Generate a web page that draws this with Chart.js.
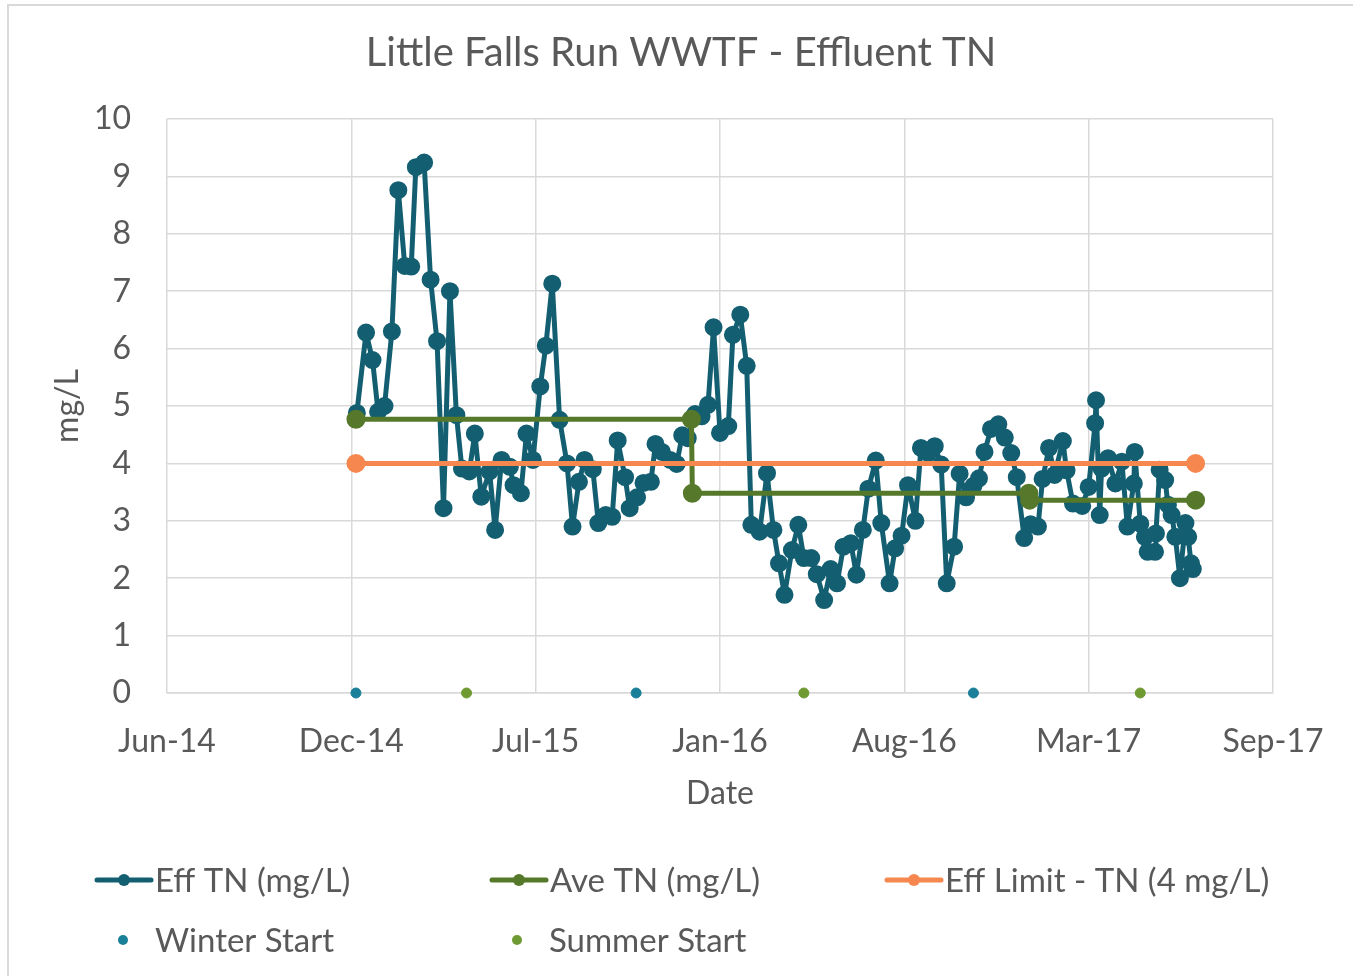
<!DOCTYPE html>
<html>
<head>
<meta charset="utf-8">
<title>Little Falls Run WWTF - Effluent TN</title>
<script src="https://cdn.jsdelivr.net/npm/chart.js@4.4.1/dist/chart.umd.min.js"></script>
<style>
  html, body { margin: 0; padding: 0; background: #fff; }
  #wrap { position: relative; width: 1353px; height: 976px; overflow: hidden; }
  #frame { position: absolute; left: 7px; top: 4px; width: 1400px; height: 1000px;
           border: 2px solid #d9d9d9; box-sizing: border-box; }
  canvas { position: absolute; left: 0; top: 0; }
</style>
</head>
<body>
<div id="wrap">
  <div id="frame"></div>
  <canvas id="chart" width="1353" height="976"></canvas>
</div>
<script>
// ---- data ----
const effDates = [
  '2015-01-02','2015-01-12','2015-01-19','2015-01-25','2015-02-01','2015-02-09','2015-02-16','2015-02-23',
  '2015-03-02','2015-03-07','2015-03-16','2015-03-23','2015-03-30','2015-04-06','2015-04-13','2015-04-20',
  '2015-04-26','2015-05-04','2015-05-10','2015-05-17','2015-05-26','2015-06-01','2015-06-08','2015-06-17',
  '2015-06-21','2015-06-29','2015-07-05','2015-07-12','2015-07-20','2015-07-26','2015-08-02','2015-08-10',
  '2015-08-18','2015-08-24','2015-08-31','2015-09-06','2015-09-15','2015-09-21','2015-09-29','2015-10-06',
  '2015-10-12','2015-10-20','2015-10-25','2015-11-02','2015-11-09','2015-11-17','2015-11-22','2015-11-29',
  '2015-12-08','2015-12-15','2015-12-21','2015-12-27','2016-01-04','2016-01-11','2016-01-18','2016-01-24',
  '2016-01-31','2016-02-09','2016-02-14','2016-02-22','2016-02-29','2016-03-05','2016-03-14','2016-03-22',
  '2016-03-29','2016-04-04','2016-04-10','2016-04-18','2016-04-25','2016-05-01','2016-05-09','2016-05-15',
  '2016-05-23','2016-05-30','2016-06-06','2016-06-13','2016-06-21','2016-06-27','2016-07-04','2016-07-10',
  '2016-07-18','2016-07-24','2016-08-02','2016-08-08','2016-08-15','2016-08-22','2016-08-30','2016-09-05',
  '2016-09-13','2016-09-20','2016-09-27','2016-10-03','2016-10-11','2016-10-17','2016-10-24','2016-11-01',
  '2016-11-07','2016-11-13','2016-11-20','2016-11-28','2016-12-05','2016-12-12','2016-12-18','2016-12-26',
  '2017-01-02','2017-01-10','2017-01-15','2017-01-22','2017-01-28','2017-02-06','2017-02-10','2017-02-17',
  '2017-02-27','2017-03-06','2017-03-13','2017-03-14','2017-03-18','2017-03-20','2017-03-27','2017-04-04',
  '2017-04-11','2017-04-17','2017-04-24','2017-04-25','2017-05-01','2017-05-06','2017-05-09','2017-05-17',
  '2017-05-18','2017-05-22','2017-05-28','2017-05-31','2017-06-04','2017-06-08','2017-06-13','2017-06-19',
  '2017-06-22','2017-06-25','2017-06-27'
];
const effValues = [
  4.88, 6.28, 5.80, 4.90, 5.00, 6.30, 8.76, 7.44,
  7.43, 9.16, 9.24, 7.20, 6.13, 3.22, 7.00, 4.84,
  3.91, 3.86, 4.52, 3.42, 3.86, 2.84, 4.06, 3.94,
  3.62, 3.48, 4.52, 4.06, 5.34, 6.05, 7.13, 4.76,
  4.00, 2.90, 3.68, 4.06, 3.90, 2.96, 3.10, 3.07,
  4.40, 3.76, 3.22, 3.41, 3.66, 3.68, 4.34, 4.20,
  4.06, 3.99, 4.49, 4.44, 4.86, 4.82, 5.02, 6.37,
  4.53, 4.65, 6.24, 6.59, 5.70, 2.93, 2.81, 3.83,
  2.84, 2.26, 1.71, 2.49, 2.93, 2.35, 2.35, 2.07,
  1.62, 2.16, 1.91, 2.55, 2.61, 2.06, 2.84, 3.56,
  4.05, 2.96, 1.91, 2.52, 2.74, 3.62, 3.00, 4.27,
  4.18, 4.30, 3.98, 1.91, 2.55, 3.82, 3.41, 3.61,
  3.74, 4.20, 4.60, 4.68, 4.45, 4.18, 3.76, 2.70,
  2.94, 2.90, 3.73, 4.27, 3.80, 4.39, 3.88, 3.30,
  3.26, 3.59, 4.70, 5.10, 3.10, 3.91, 4.09, 3.65,
  4.03, 2.90, 3.65, 4.20, 2.95, 2.72, 2.46, 2.46,
  2.78, 3.89, 3.71, 3.28, 3.10, 2.72, 2.00, 2.96,
  2.72, 2.26, 2.16
];

const aveDates  = ['2015-01-01', '2015-12-31', '2016-01-01', '2016-12-31', '2017-01-01', '2017-06-30'];
const aveValues = [4.77, 4.77, 3.48, 3.48, 3.36, 3.36];

const limitDates  = ['2015-01-01', '2017-06-30'];
const limitValues = [4, 4];

const winterDates = ['2015-01-01', '2015-11-01', '2016-11-01'];
const summerDates = ['2015-05-01', '2016-05-01', '2017-05-01'];

const xAxisStart = '2014-06-10';
const xStepDays = 200;
const xTickLabels = ['Jun-14', 'Dec-14', 'Jul-15', 'Jan-16', 'Aug-16', 'Mar-17', 'Sep-17'];

const chartTitle = 'Little Falls Run WWTF - Effluent TN';

// ---- helpers ----
function toDay(s) {
  return Date.UTC(+s.slice(0, 4), +s.slice(5, 7) - 1, +s.slice(8, 10)) / 86400000;
}
function pts(dates, values) {
  return dates.map((d, i) => ({ x: toDay(d), y: values[i] }));
}

const xMin = toDay(xAxisStart);
const xMax = xMin + xStepDays * (xTickLabels.length - 1);

const FONT = 'Lato, "Open Sans", sans-serif';
const TEXT = '#595959';
const GRID = '#d9d9d9';

// title + legend drawn Excel style (title centred on the frame, legend in fixed columns)
const decorPlugin = {
  id: 'excelDecor',
  afterDraw(chart) {
    const ctx = chart.ctx;
    ctx.save();
    ctx.fillStyle = TEXT;
    ctx.textAlign = 'center';
    ctx.textBaseline = 'middle';
    ctx.font = '40px ' + FONT;
    ctx.fillText(chartTitle, 681, 53);

    const items = [
      { ds: 0, x: 95,  y: 880, line: true },
      { ds: 1, x: 490, y: 880, line: true },
      { ds: 2, x: 885, y: 880, line: true },
      { ds: 3, x: 123, y: 940, line: false },
      { ds: 4, x: 517, y: 940, line: false }
    ];
    ctx.font = '33px ' + FONT;
    ctx.textAlign = 'left';
    items.forEach(it => {
      const ds = chart.data.datasets[it.ds];
      let cx = it.x, textX = it.x + 32;
      if (it.line) {
        ctx.strokeStyle = ds.borderColor;
        ctx.lineWidth = ds.borderWidth;
        ctx.lineCap = 'round';
        ctx.beginPath();
        ctx.moveTo(it.x + 2, it.y);
        ctx.lineTo(it.x + 56, it.y);
        ctx.stroke();
        cx = it.x + 29;
        textX = it.x + 60;
      }
      ctx.fillStyle = ds.pointBackgroundColor;
      ctx.beginPath();
      ctx.arc(cx, it.y, it.line ? 6 : 5, 0, Math.PI * 2);
      ctx.fill();
      ctx.fillStyle = TEXT;
      ctx.fillText(ds.label, textX, it.y + 1);
    });
    ctx.restore();
  }
};

new Chart(document.getElementById('chart'), {
  type: 'line',
  data: {
    datasets: [
      {
        label: 'Eff TN (mg/L)',
        data: pts(effDates, effValues),
        borderColor: '#135f71',
        pointBackgroundColor: '#135f71',
        pointBorderColor: '#135f71',
        borderWidth: 5,
        borderJoinStyle: 'round',
        pointRadius: 6.5,
        order: 5
      },
      {
        label: 'Ave TN (mg/L)',
        data: pts(aveDates, aveValues),
        borderColor: '#56782a',
        pointBackgroundColor: '#56782a',
        pointBorderColor: '#56782a',
        borderWidth: 5,
        borderJoinStyle: 'round',
        pointRadius: 7,
        order: 4
      },
      {
        label: 'Eff Limit - TN (4 mg/L)',
        data: pts(limitDates, limitValues),
        borderColor: '#f5874f',
        pointBackgroundColor: '#f5874f',
        pointBorderColor: '#f5874f',
        borderWidth: 5,
        pointRadius: 7,
        order: 3
      },
      {
        label: 'Winter Start',
        data: pts(winterDates, winterDates.map(() => 0)),
        showLine: false,
        borderColor: '#1a7f98',
        pointBackgroundColor: '#1a7f98',
        pointBorderColor: '#1a7f98',
        pointRadius: 5,
        order: 2
      },
      {
        label: 'Summer Start',
        data: pts(summerDates, summerDates.map(() => 0)),
        showLine: false,
        borderColor: '#6e9a31',
        pointBackgroundColor: '#6e9a31',
        pointBorderColor: '#6e9a31',
        pointRadius: 5,
        order: 1
      }
    ]
  },
  options: {
    responsive: false,
    animation: false,
    clip: false,
    layout: { padding: { left: 40, right: 80, top: 119, bottom: 153 } },
    plugins: {
      legend: { display: false },
      tooltip: { enabled: false },
      title: { display: false }
    },
    scales: {
      x: {
        type: 'linear',
        min: xMin,
        max: xMax,
        afterBuildTicks: scale => {
          scale.ticks = xTickLabels.map((_, i) => ({ value: xMin + i * xStepDays }));
        },
        afterFit: scale => { scale.height = 130; },
        ticks: {
          color: TEXT,
          font: { family: FONT, size: 32 },
          padding: 29,
          maxRotation: 0,
          autoSkip: false,
          callback: (v, i) => xTickLabels[i]
        },
        grid: { color: GRID, lineWidth: 1.5, drawTicks: false },
        border: { color: GRID, width: 1.5 },
        title: {
          display: true,
          text: 'Date',
          color: TEXT,
          font: { family: FONT, size: 32 },
          padding: { top: 0, bottom: 10 }
        }
      },
      y: {
        min: 0,
        max: 10,
        afterFit: scale => { scale.width = 127; },
        ticks: {
          stepSize: 1,
          color: TEXT,
          font: { family: FONT, size: 32 },
          padding: 36
        },
        grid: { color: GRID, lineWidth: 1.5, drawTicks: false },
        border: { display: false },
        title: {
          display: true,
          text: 'mg/L',
          color: TEXT,
          font: { family: FONT, size: 32 },
          padding: { top: 8, bottom: 0 }
        }
      }
    }
  },
  plugins: [decorPlugin]
});
</script>
</body>
</html>
